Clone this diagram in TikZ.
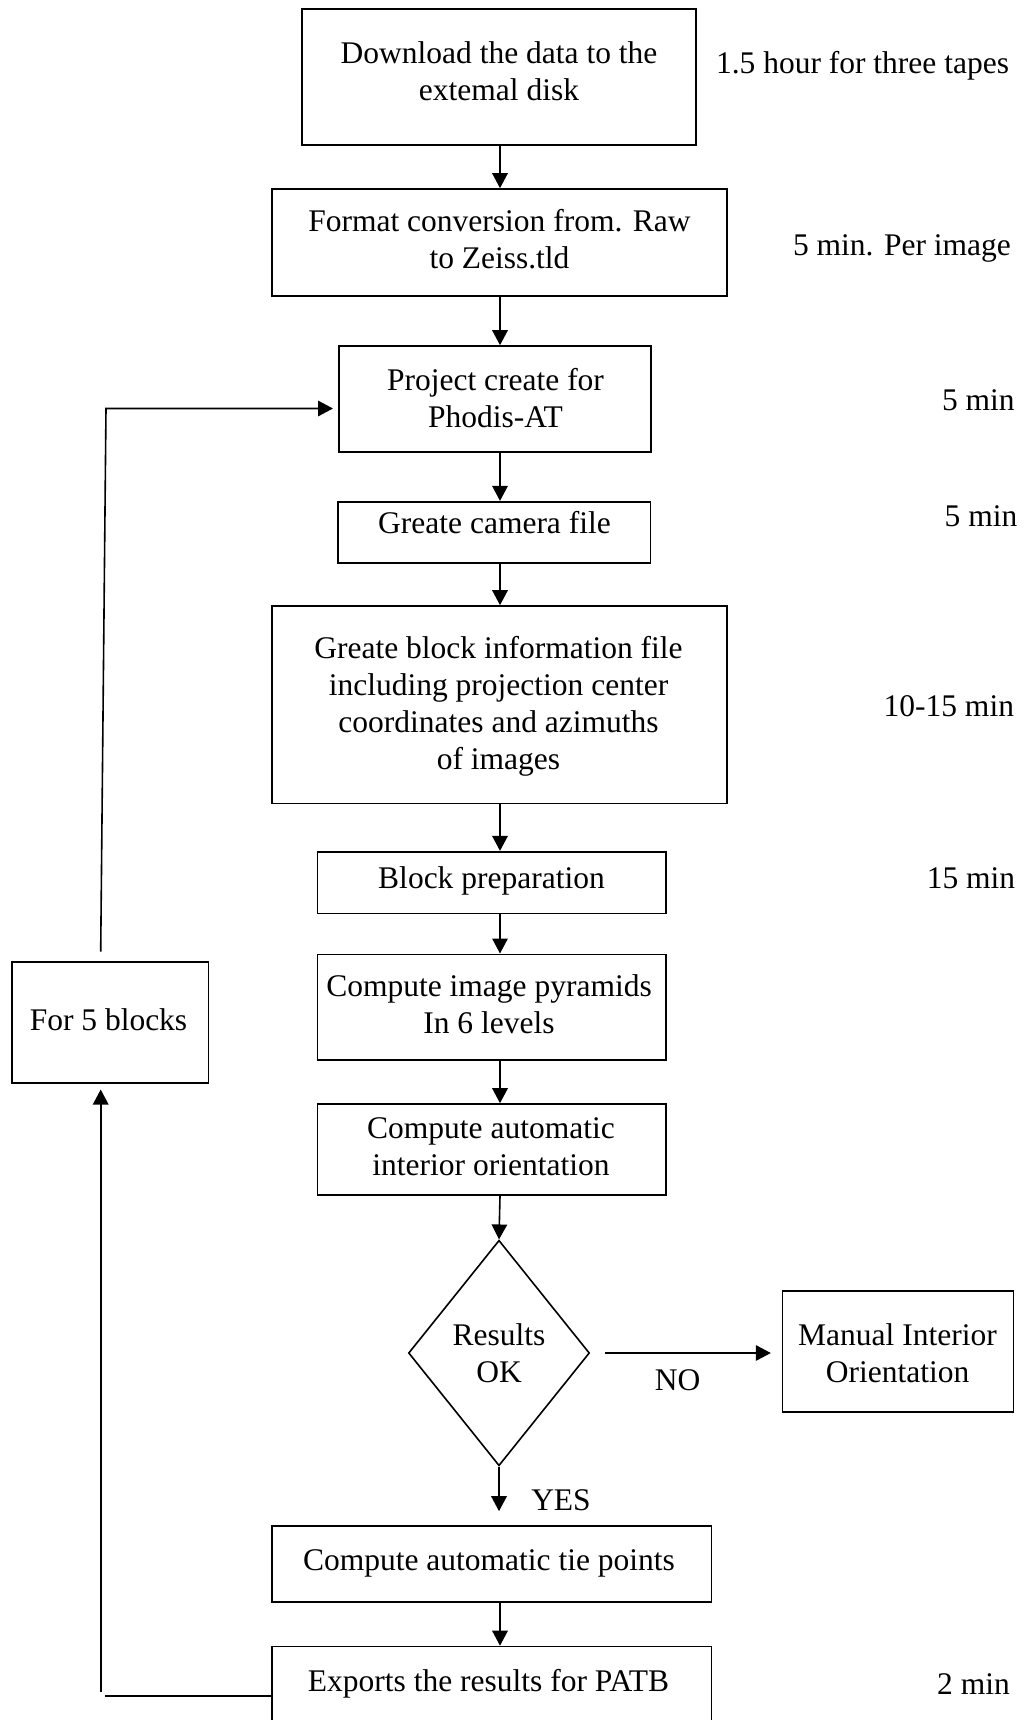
\documentclass[tikz,border=0pt]{standalone}
\usepackage{fontspec}
\setmainfont{Liberation Serif}
\usetikzlibrary{arrows.meta,shapes.geometric}
\newcommand\figfont{\fontsize{31.5}{37}\selectfont}
\tikzset{
  box/.style={draw, line width=1.6pt, inner sep=0pt},
  txt/.style={font=\figfont, inner sep=0pt, anchor=north, align=center},
  arr/.style={line width=1.6pt, -{Triangle[length=15pt,width=15.5pt]}},
  ln/.style={line width=1.6pt},
}
\begin{document}
\begin{tikzpicture}[x=1pt,y=-1pt]
\fill[white] (0,0) rectangle (1023,1720);
\useasboundingbox (0,0) rectangle (1023,1720);

% boxes
\node[box, minimum width=394.5pt, minimum height=136pt] (b1) at (499,77) {};
\node[box, minimum width=454.6pt, minimum height=106.7pt] (b2) at (499.5,242.35) {};
\node[box, minimum width=312.1pt, minimum height=106pt] (b3) at (494.85,399) {};
\node[box, minimum width=312.6pt, minimum height=61pt] (b4) at (494.1,532.2) {};
\node[box, minimum width=454.6pt, minimum height=197.3pt] (b5) at (499.5,704.65) {};
\node[box, minimum width=348.1pt, minimum height=61.6pt] (b6) at (491.65,882.5) {};
\node[box, minimum width=348.1pt, minimum height=105.7pt] (b7) at (491.65,1007.15) {};
\node[box, minimum width=348.1pt, minimum height=91pt] (b8) at (491.65,1149.5) {};
\node[box, diamond, minimum width=181pt, minimum height=225.5pt] (dia) at (499,1353) {};
\node[box, minimum width=230.9pt, minimum height=120.8pt] (b9) at (898.05,1351.3) {};
\node[box, minimum width=439.3pt, minimum height=75.8pt] (b10) at (491.65,1563.9) {};
\node[box, minimum width=439.3pt, minimum height=93.5pt] (b11) at (491.65,1693.25) {};
\node[box, minimum width=196.6pt, minimum height=121pt] (fb) at (110,1022.2) {};

% box texts
\node[txt] (t1) at (499,37.4) {\strut Download the data to the\\extemal disk};
\node[txt] (t2) at (499.5,205.8) {\strut Format conversion from. Raw\\to Zeiss.tld};
\node[txt] (t3) at (495.5,364.1) {\strut Project create for\\Phodis-AT};
\node[txt] (t4) at (494.5,507.4) {\strut Greate camera file};
\node[txt] (t5) at (498.5,632.4) {\strut Greate block information file\\including projection center\\coordinates and azimuths\\of images};
\node[txt] (t6) at (491.5,862.4) {\strut Block preparation};
\node[txt] (t7) at (489,970.8) {\strut Compute image pyramids\\In 6 levels};
\node[txt] (t8) at (491,1112.4) {\strut Compute automatic\\interior orientation};
\node[txt] (td) at (499,1319.1) {\strut Results\\OK};
\node[txt] (t9) at (897.5,1319.1) {\strut Manual Interior\\Orientation};
\node[txt] (t10) at (489,1544.6) {\strut Compute automatic tie points};
\node[txt] (t11) at (488.5,1665.1) {\strut Exports the results for PATB};
\node[txt] (tfb) at (108.5,1004.1) {\strut For 5 blocks};
\node[txt] (tno) at (677.7,1364.1) {\strut NO};
\node[txt] (tyes) at (561,1484.3) {\strut YES};

% side labels
\node[txt] (l1) at (862.5,47.4) {\strut 1.5 hour for three tapes};
\node[txt] (l2) at (902,229.1) {\strut 5 min. Per image};
\node[txt] (l3) at (978.4,384.1) {\strut 5 min};
\node[txt] (l4) at (981,500.8) {\strut 5 min};
\node[txt] (l5) at (948.8,690.8) {\strut 10-15 min};
\node[txt] (l6) at (971,862.4) {\strut 15 min};
\node[txt] (l7) at (973.5,1668.6) {\strut 2 min};

% main flow
\coordinate (ax) at (500,0);
\draw[arr] (b1.south -| ax) -- (b2.north -| ax);
\draw[arr] (b2.south -| ax) -- (b3.north -| ax);
\draw[arr] (b3.south -| ax) -- (b4.north -| ax);
\draw[arr] (b4.south -| ax) -- (b5.north -| ax);
\draw[arr] (b5.south -| ax) -- (b6.north -| ax);
\draw[arr] (b6.south -| ax) -- (b7.north -| ax);
\draw[arr] (b7.south -| ax) -- (b8.north -| ax);
\draw[arr] (b8.south -| ax) -- (dia.north);
\draw[arr, shorten >=14pt] (dia.south) -- (b10.north -| dia.south);
\draw[arr] (b10.south -| ax) -- (b11.north -| ax);
\draw[arr, shorten <=15pt, shorten >=11pt] (dia.east) -- (dia.east -| b9.west);

% loop
\coordinate (u0) at (100.7,951.7);
\coordinate (u1) at (106,408.5);
\draw[arr, shorten >=5pt] (u0) -- (u1) -- (u1 -| b3.west);
\coordinate (d0) at (105.3,1695.7);
\coordinate (d1) at (100.7,1692);
\coordinate (d2) at (100.7,1089.5);
\draw[ln] (b11.west |- d0) -- (d0);
\draw[arr] (d1) -- (d2);
\end{tikzpicture}
\end{document}
